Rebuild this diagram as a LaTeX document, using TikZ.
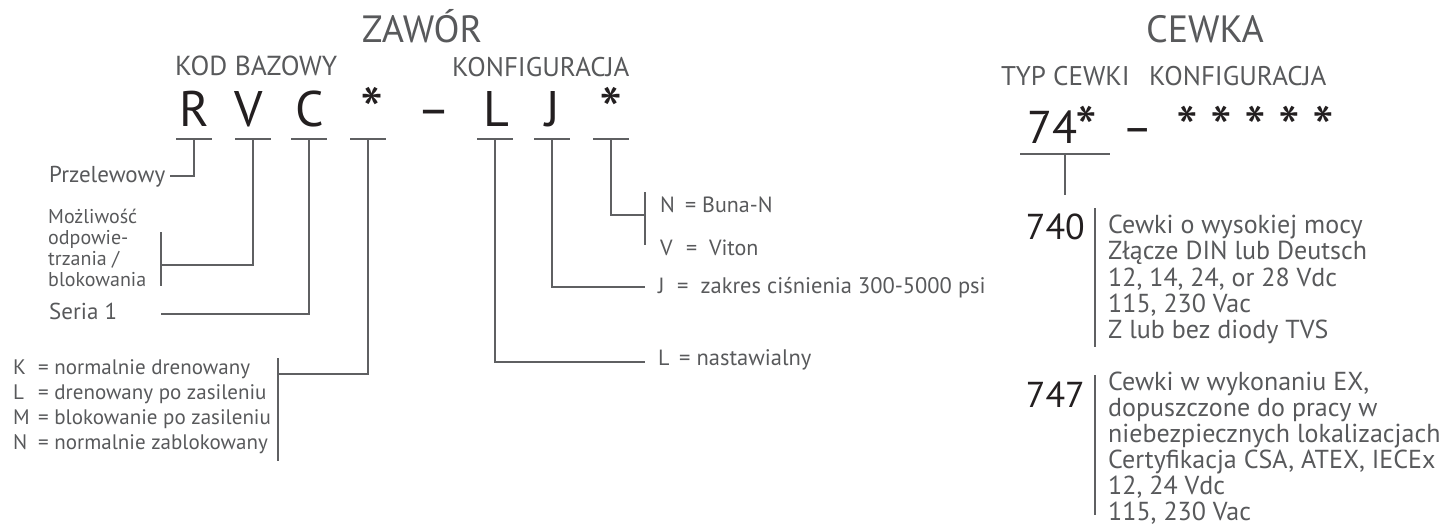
\documentclass[tikz,border=0pt]{standalone}
\usepackage{fontspec}
\setmainfont{PT Sans}
\definecolor{txtgray}{HTML}{58595B}
\definecolor{linegray}{HTML}{5F6062}
\definecolor{codeblack}{HTML}{231F20}
\newcommand\fs[1]{\fontsize{#1}{#1}\selectfont}
\tikzset{
  lbl/.style={inner sep=0pt, text=txtgray, anchor=base west},
  head/.style={inner sep=0pt, text=txtgray, anchor=base},
  code/.style={inner sep=0pt, text=codeblack, anchor=base, font=\fs{50}},
  star/.style={inner sep=0pt, text=codeblack, anchor=base, font=\fs{66}},
  leader/.style={draw=linegray, line width=2.8pt, line cap=butt, line join=miter},
}
\begin{document}
\begin{tikzpicture}[x=1pt,y=-1pt]
\useasboundingbox (0,0) rectangle (1442,527);

% ---------- valve code ----------
\node[head, font=\fs{38}] (zawor) at (422,43) {ZAWÓR};
\node[lbl, font=\fs{27.5}] (kod) at (175,75) {KOD BAZOWY};
\node[lbl, font=\fs{27}] (konf) at (452,76) {KONFIGURACJA};

\node[code] (cR) at (194,126) {R};
\node[code] (cV) at (249,126) {V};
\node[code] (cC) at (310,126) {C};
\node[star] (cS1) at (372,134) {*};
\node[code] (cD) at (434,126) {–};
\node[code] (cL) at (496,126) {L};
\node[code] (cJ) at (553,126) {J};
\node[star] (cS2) at (611,134) {*};

% underline bars
\foreach \n/\x in {R/194,V/253,C/309,S1/368,L/495,J/552,S2/611}{
  \coordinate (b\n) at (\x,139);
  \draw[leader] ([xshift=-18pt]b\n) -- ([xshift=18pt]b\n);
}

% ---------- valve descriptions ----------
\node[lbl, font=\fs{23}] (przel) at (49,182) {Przelewowy};
\coordinate (przelEnd) at (170,176);
\draw[leader] (bR) |- (przelEnd);

\node[lbl, font=\fs{20}] (mozl1) at (48,223) {Możliwość};
\node[lbl, font=\fs{20}] (mozl2) at (48,244) {odpowie-};
\node[lbl, font=\fs{20}] (mozl3) at (48,265) {trzania /};
\node[lbl, font=\fs{20}] (mozl4) at (48,286) {blokowania};
\coordinate (mozlTop) at (161,232);
\coordinate (mozlBot) at (161,286);
\coordinate (mozlMid) at (161,265);
\draw[leader] (mozlTop) -- (mozlBot);
\draw[leader] (bV) |- (mozlMid);

\node[lbl, font=\fs{23}] (seria) at (49,319) {Seria 1};
\coordinate (seriaEnd) at (161,314);
\draw[leader] (bC) |- (seriaEnd);

\foreach \k/\t/\y [count=\i] in {K/normalnie drenowany/374,L/drenowany po zasileniu/399,M/blokowanie po zasileniu/424,N/normalnie zablokowany/449}{
  \node[lbl, font=\fs{21}] (opt\i) at (13,\y) {\k};
  \node[lbl, font=\fs{21}] (optd\i) at (38,\y) {= \t};
}
\coordinate (optTop) at (278,358);
\coordinate (optBot) at (278,461);
\coordinate (optMid) at (278,374);
\draw[leader] (optTop) -- (optBot);
\draw[leader] (bS1) |- (optMid);

% seals
\node[lbl, font=\fs{22}] (sealN) at (660,212) {N};
\node[lbl, font=\fs{22}] (sealNd) at (685,212) {= Buna-N};
\node[lbl, font=\fs{22}] (sealV) at (660,255) {V};
\node[lbl, font=\fs{22}] (sealVd) at (686,255) {=\ \ Viton};
\coordinate (sealTop) at (645,192);
\coordinate (sealBot) at (645,245);
\coordinate (sealMid) at (645,215);
\draw[leader] (sealTop) -- (sealBot);
\draw[leader] (bS2) |- (sealMid);

% pressure range
\node[lbl, font=\fs{22}] (presJ) at (658,293) {J};
\node[lbl, font=\fs{22.5}] (presd) at (677,293) {=\ \ zakres ciśnienia 300-5000 psi};
\coordinate (presEnd) at (645,287);
\draw[leader] (bJ) |- (presEnd);

% adjustment
\node[lbl, font=\fs{22}] (adjL) at (658,365) {L};
\node[lbl, font=\fs{22.5}] (adjd) at (679,365) {= nastawialny};
\coordinate (adjEnd) at (645,362);
\draw[leader] (bL) |- (adjEnd);

% ---------- coil code ----------
\node[head, font=\fs{38}] (cewka) at (1205,43) {CEWKA};
\node[lbl, font=\fs{27}] (typ) at (1001,85) {TYP CEWKI};
\node[lbl, font=\fs{27}] (konf2) at (1149,85) {KONFIGURACJA};

\node[inner sep=0pt, text=codeblack, anchor=base west, font=\fs{46}] (c74) at (1027,143) {74};
\node[star, font=\fs{62}] (c74s) at (1086,150) {*};
\node[code, font=\fs{46}] (cD2) at (1138,143) {–};
\foreach \x [count=\i] in {1187,1221,1255,1289,1323}{
  \node[star, font=\fs{62}] (cs\i) at (\x,150) {*};
}
\coordinate (b74) at (1065,154);
\draw[leader] (1020,154) -- (1110,154);
\coordinate (c74end) at (1065,195);
\draw[leader] (b74) -- (c74end);

% 740
\node[inner sep=0pt, text=codeblack, anchor=base east, font=\fs{36}] (n740) at (1085,239) {740};
\draw[leader] (1095,208) -- (1095,347);
\foreach \t/\y [count=\i] in {Cewki o wysokiej mocy/233,Złącze DIN lub Deutsch/259,{12, 14, 24, or 28 Vdc}/286,{115, 230 Vac}/312,Z lub bez diody TVS/338}{
  \node[lbl, font=\fs{26}] (d740\i) at (1108,\y) {\t};
}

% 747
\node[inner sep=0pt, text=codeblack, anchor=base east, font=\fs{36}] (n747) at (1085,407) {747};
\draw[leader] (1095,375) -- (1095,515);
\foreach \t/\y [count=\i] in {{Cewki w wykonaniu EX,}/390,dopuszczone do pracy w/416,niebezpiecznych lokalizacjach/442,{Certyfikacja CSA, ATEX, IECEx}/468,{12, 24 Vdc}/494,{115, 230 Vac}/520}{
  \node[lbl, font=\fs{26}] (d747\i) at (1108,\y) {\t};
}
\end{tikzpicture}
\end{document}
